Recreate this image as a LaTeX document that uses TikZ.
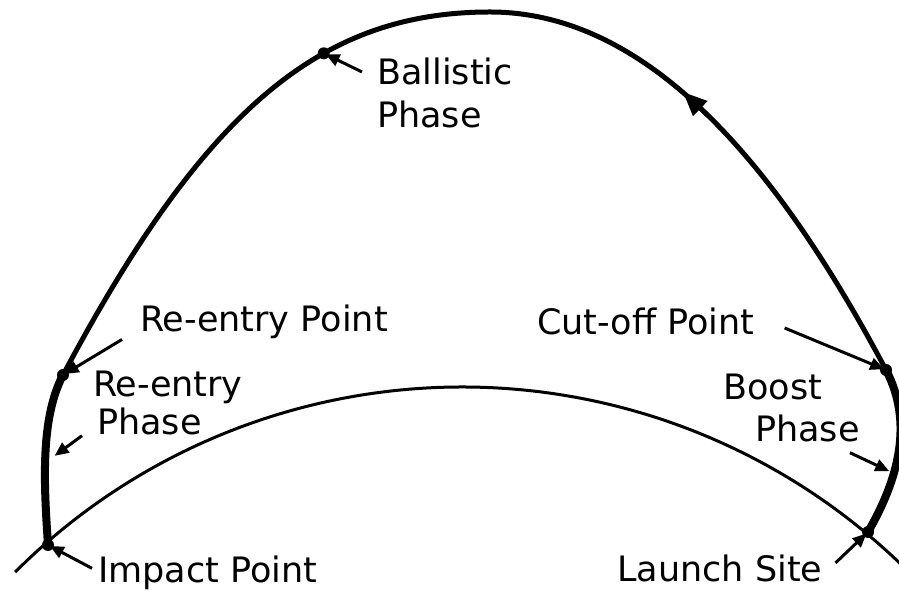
\documentclass[tikz,border=0pt]{standalone}
\usepackage{fontspec}
\setmainfont{DejaVu Sans}
\usetikzlibrary{arrows.meta}

\tikzset{
  lbl/.style={anchor=base west, inner sep=0pt, font=\fontsize{35}{40}\selectfont},
  flight/.style={line width=5pt, line join=round, line cap=round},
  phaseline/.style={line width=8pt, line join=round, line cap=round},
  earth/.style={line width=3pt},
  ptr/.style={line width=3pt, shorten >=2pt, -{Triangle[length=14pt,width=12pt]}},
  spot/.style={radius=6pt},
}

\begin{document}
\begin{tikzpicture}[x=1pt,y=1pt]
\useasboundingbox (0,0) rectangle (899,591);
\clip (0,0) rectangle (899,591);

% points on the trajectory
\coordinate (launch) at (868,59);
\coordinate (cutoff) at (886,221);
\coordinate (apex) at (490,579);
\coordinate (reentry) at (63,216);
\coordinate (impact) at (48,46);

% earth surface
\draw[earth] (462,-428) ++(135:632) arc[start angle=135, end angle=44, radius=632];

% trajectory
\draw[phaseline] (launch) .. controls (898,111) and (914,168) .. (cutoff);
\draw[flight] (cutoff) .. controls (769,442) and (640,579) .. (apex)
  .. controls (320,579) and (204,481) .. (reentry) coordinate[pos=0.36] (ballistic);
\draw[phaseline] (reentry) .. controls (40,172) and (44,106) .. (impact);

% direction of flight
\coordinate (dirbase) at (708,475);
\coordinate (dirtip) at (683,499);
\draw[line width=4pt, -{Triangle[length=24pt,width=20pt]}] (dirbase) -- (dirtip);

% dots
\foreach \p in {launch,cutoff,ballistic,reentry,impact}
  \fill[spot] (\p) circle;

% labels
\node[lbl] (bal1) at (377,506) {Ballistic};
\node[lbl] (bal2) at (377,463) {Phase};
\node[lbl] (rep) at (140,259) {Re-entry Point};
\node[lbl] (reph1) at (93,194) {Re-entry};
\node[lbl] (reph2) at (97,156) {Phase};
\node[lbl] (cop) at (537,256) {Cut-off Point};
\node[lbl] (bp1) at (723,191) {Boost};
\node[lbl] (bp2) at (755,149) {Phase};
\node[lbl] (imp) at (98,8) {Impact Point};
\node[lbl] (ls) at (617,9) {Launch Site};

\coordinate (rephtip) at (53,134);
\coordinate (bptip) at (891,119);

% pointers
\draw[ptr] ([xshift=-15pt]bal1.west) -- (ballistic);
\draw[ptr] ([xshift=-18pt]rep.south west) -- (reentry);
\draw[ptr] ([xshift=-15pt]reph2.south west) -- (rephtip);
\draw[ptr] ([xshift=30pt,yshift=-6pt]cop.east) -- (cutoff);
\draw[ptr] ([xshift=-10pt,yshift=-10pt]bp2.south east) -- (bptip);
\draw[ptr] ([xshift=-6pt,yshift=5pt]imp.west) -- (impact);
\draw[ptr] ([xshift=13pt,yshift=6pt]ls.east) -- (launch);
\end{tikzpicture}
\end{document}
